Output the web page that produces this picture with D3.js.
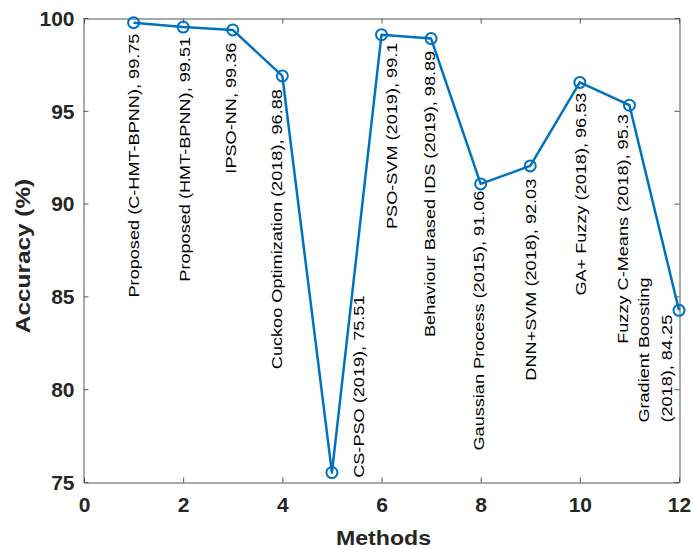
<!DOCTYPE html>
<html>
<head>
<meta charset="utf-8">
<script src="https://cdn.jsdelivr.net/npm/d3@7"></script>
<style>
  body { margin: 0; background: #fff; }
  svg { display: block; font-family: "Liberation Sans", Arial, sans-serif; }
</style>
</head>
<body>
<svg id="chart" width="693" height="549"></svg>
<script>
// method index on x, accuracy on y
var methods = [1, 2, 3, 4, 5, 6, 7, 8, 9, 10, 11, 12];
var accuracy = [99.75, 99.51, 99.36, 96.88, 75.51, 99.1, 98.89, 91.06, 92.03, 96.53, 95.3, 84.25];
var names = [
  'Proposed (C-HMT-BPNN), 99.75',
  'Proposed (HMT-BPNN), 99.51',
  'IPSO-NN, 99.36',
  'Cuckoo Optimization (2018), 96.88',
  'CS-PSO (2019), 75.51',
  'PSO-SVM (2019), 99.1',
  'Behaviour Based IDS (2019), 98.89',
  'Gaussian Process (2015), 91.06',
  'DNN+SVM (2018), 92.03',
  'GA+ Fuzzy (2018), 96.53',
  'Fuzzy C-Means (2018), 95.3',
  ['Gradient Boosting', '(2018), 84.25']
];
var xTicks = [0, 2, 4, 6, 8, 10, 12];
var yTicks = [75, 80, 85, 90, 95, 100];

// where each text annotation sits, in data units (like matlab text(x,y,...))
var labelX = [1.0, 2.03, 2.96, 3.9, 5.55, 6.21, 6.98, 7.96, 9.01, 10.02, 10.88, 11.29];
var labelY = [99.16, 98.98, 98.67, 96.17, 85.05, 98.67, 98.23, 90.7, 91.34, 95.98, 94.82, 78.2];

var svg = d3.select('#chart');
// NOTE: can't call these top/left, window.top is read-only
var pL = 84, pR = 679, pT = 18, pB = 482;

var x = d3.scaleLinear().domain([0, 12]).range([pL, pR]);
var y = d3.scaleLinear().domain([75, 100]).range([pB, pT]);

// widen text along its reading direction (the source fonts run wide)
function stretch(sel, k) {
  sel.each(function() {
    var w = this.getComputedTextLength();
    d3.select(this).attr('textLength', w * k).attr('lengthAdjust', 'spacingAndGlyphs');
  });
}

function styleAxis(g) {
  g.select('.domain').attr('stroke', '#555').attr('stroke-width', 1);
  g.selectAll('.tick line').attr('stroke', '#555');
  g.selectAll('.tick text')
    .attr('fill', '#262626')
    .style('font-family', '"Liberation Sans", Arial, sans-serif')
    .style('font-size', '20px')
    .style('font-weight', 'bold');
}

var gx = svg.append('g').attr('transform', 'translate(0,' + (pB + 0.5) + ')')
  .call(d3.axisBottom(x).tickValues(xTicks).tickSizeInner(-5).tickSizeOuter(0).tickPadding(15));
styleAxis(gx);
var gy = svg.append('g').attr('transform', 'translate(' + (pL - 0.5) + ',0)')
  .call(d3.axisLeft(y).tickValues(yTicks).tickSizeInner(-5).tickSizeOuter(0).tickPadding(9));
styleAxis(gy);
var gt = svg.append('g').attr('transform', 'translate(0,' + (pT + 0.5) + ')')
  .call(d3.axisTop(x).tickValues(xTicks).tickSizeInner(-5).tickSizeOuter(0).tickFormat(''));
styleAxis(gt);
var gr = svg.append('g').attr('transform', 'translate(' + (pR + 0.5) + ',0)')
  .call(d3.axisRight(y).tickValues(yTicks).tickSizeInner(-5).tickSizeOuter(0).tickFormat(''));
styleAxis(gr);

gx.selectAll('.tick text').call(stretch, 1.05);
gy.selectAll('.tick text').attr('dy', '0.36em').call(stretch, 1.05);

// line + open circle markers
var pts = methods.map(function(m, i) { return [m, accuracy[i]]; });
svg.append('path')
  .datum(pts)
  .attr('fill', 'none')
  .attr('stroke', '#0072BD')
  .attr('stroke-width', 2.5)
  .attr('stroke-linejoin', 'round')
  .attr('d', d3.line().x(function(d) { return x(d[0]); }).y(function(d) { return y(d[1]); }));

svg.selectAll('circle.mk')
  .data(pts)
  .enter().append('circle')
  .attr('class', 'mk')
  .attr('cx', function(d) { return x(d[0]); })
  .attr('cy', function(d) { return y(d[1]); })
  .attr('r', 5.5)
  .attr('fill', 'none')
  .attr('stroke', '#0072BD')
  .attr('stroke-width', 2);

// rotated annotations
names.forEach(function(nm, i) {
  var lines = Array.isArray(nm) ? nm : [nm];
  var anchor = lines.length > 1 ? 'start' : 'end';
  lines.forEach(function(ln, j) {
    var g = svg.append('g')
      .attr('transform', 'translate(' + (x(labelX[i]) + j * 23) + ',' + y(labelY[i]) + ') rotate(-90)');
    g.append('text')
      .attr('text-anchor', anchor)
      .attr('dominant-baseline', 'central')
      .attr('fill', '#000')
      .style('font-size', '14.5px')
      .text(ln)
      .call(stretch, 1.25);
  });
});

// axis titles
svg.append('text')
  .attr('x', (pL + pR) / 2 + 2)
  .attr('y', 537)
  .attr('text-anchor', 'middle')
  .attr('dominant-baseline', 'central')
  .attr('fill', '#262626')
  .style('font-size', '21px')
  .style('font-weight', 'bold')
  .text('Methods')
  .call(stretch, 1.1);

svg.append('text')
  .attr('transform', 'translate(22,256) rotate(-90)')
  .attr('text-anchor', 'middle')
  .attr('dominant-baseline', 'central')
  .attr('fill', '#262626')
  .style('font-size', '21px')
  .style('font-weight', 'bold')
  .text('Accuracy (%)')
  .call(stretch, 1.16);
</script>
</body>
</html>
